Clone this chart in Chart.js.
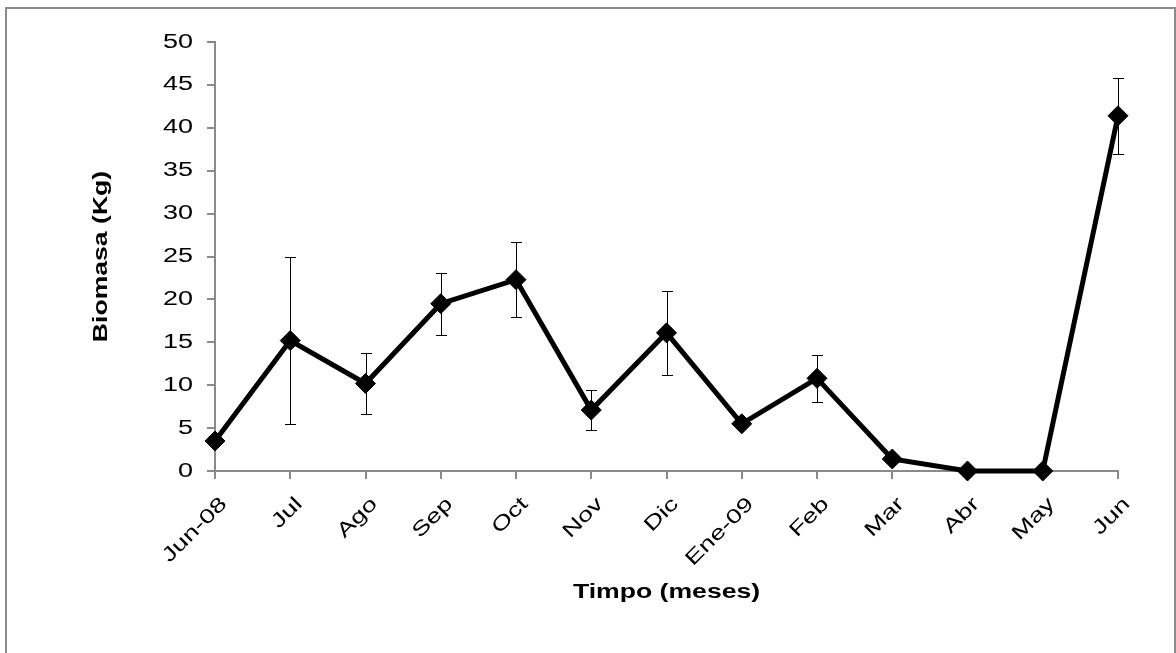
<!DOCTYPE html>
<html>
<head>
<meta charset="utf-8">
<script src="https://cdn.jsdelivr.net/npm/chart.js@4/dist/chart.umd.min.js"></script>
<style>
  html, body { margin: 0; padding: 0; background: #fff; }
  #wrap { width: 1176px; height: 653px; position: relative; }
</style>
</head>
<body>
<div id="wrap"><canvas id="c" width="1176" height="653"></canvas></div>
<script>
// Monthly biomass (kg) with standard error
const meses = ['Jun-08', 'Jul', 'Ago', 'Sep', 'Oct', 'Nov', 'Dic', 'Ene-09', 'Feb', 'Mar', 'Abr', 'May', 'Jun'];
const biomasa = [3.5, 15.2, 10.2, 19.5, 22.3, 7.1, 16.1, 5.5, 10.8, 1.4, 0, 0, 41.4];
const errorEstandar = [0, 9.7, 3.6, 3.6, 4.4, 2.3, 4.9, 0, 2.7, 0, 0, 0, 4.4];
const marcasY = [0, 5, 10, 15, 20, 25, 30, 35, 40, 45, 50];
const tituloX = 'Timpo (meses)';
const tituloY = 'Biomasa (Kg)';

const GRIS = '#8a8a8a';
const FUENTE = '"Liberation Sans", Arial, sans-serif';
const ESTIRA = 1.35;      // horizontal widening of the label glyphs

function texto(ctx, str, x, y, ang, font, align, sx) {
  ctx.save();
  ctx.translate(x, y);
  ctx.rotate(ang);
  ctx.scale(sx, 1);
  ctx.font = font;
  ctx.textAlign = align;
  ctx.textBaseline = 'middle';
  ctx.fillStyle = '#000';
  ctx.fillText(str, 0, 0);
  ctx.restore();
}

// white background and outer frame
const marco = {
  id: 'marco',
  beforeDraw(chart) {
    const ctx = chart.ctx;
    ctx.save();
    ctx.fillStyle = '#fff';
    ctx.fillRect(0, 0, chart.width, chart.height);
    ctx.strokeStyle = GRIS;
    ctx.lineWidth = 2;
    ctx.strokeRect(6, 8, 1169, 700);
    ctx.restore();
  }
};

// vertical error bars with caps, under the line
const barrasError = {
  id: 'barrasError',
  beforeDatasetsDraw(chart) {
    const ctx = chart.ctx, xs = chart.scales.x, ys = chart.scales.y;
    ctx.save();
    ctx.strokeStyle = '#000';
    ctx.lineWidth = 1;
    biomasa.forEach((v, i) => {
      const e = errorEstandar[i];
      if (!e) return;
      const x = Math.round(xs.getPixelForValue(i)) + 0.5;
      const yt = Math.round(ys.getPixelForValue(v + e)) + 0.5;
      const yb = Math.round(ys.getPixelForValue(v - e)) + 0.5;
      ctx.beginPath();
      ctx.moveTo(x, yt); ctx.lineTo(x, yb);
      ctx.moveTo(x - 5.5, yt); ctx.lineTo(x + 5.5, yt);
      ctx.moveTo(x - 5.5, yb); ctx.lineTo(x + 5.5, yb);
      ctx.stroke();
    });
    ctx.restore();
  }
};

// tick labels and axis titles
const rotulos = {
  id: 'rotulos',
  afterDraw(chart) {
    const ctx = chart.ctx, xs = chart.scales.x, ys = chart.scales.y, a = chart.chartArea;
    const f = '20px ' + FUENTE;
    marcasY.forEach(v => {
      texto(ctx, String(v), a.left - 22, ys.getPixelForValue(v), 0, f, 'right', ESTIRA);
    });
    meses.forEach((m, i) => {
      texto(ctx, m, xs.getPixelForValue(i) + 9, a.bottom + 30, -Math.PI / 4, f, 'right', ESTIRA);
    });
    const fb = 'bold 20px ' + FUENTE;
    texto(ctx, tituloY, 101, (a.top + a.bottom) / 2, -Math.PI / 2, fb, 'center', 1.33);
    texto(ctx, tituloX, (a.left + a.right) / 2, 592, 0, fb, 'center', 1.33);
  }
};

new Chart(document.getElementById('c'), {
  type: 'line',
  data: {
    labels: meses,
    datasets: [{
      data: biomasa,
      borderColor: '#000',
      borderWidth: 5,
      backgroundColor: '#000',
      pointStyle: 'rectRot',
      pointRadius: 10,
      pointBackgroundColor: '#000',
      pointBorderColor: '#000',
      pointBorderWidth: 1,
      tension: 0,
      clip: false
    }]
  },
  options: {
    responsive: false,
    animation: false,
    devicePixelRatio: 1,
    layout: { padding: { left: 0, top: 42, right: 58, bottom: 0 } },
    plugins: { legend: { display: false }, tooltip: { enabled: false } },
    scales: {
      x: {
        type: 'category',
        offset: false,
        grid: { drawOnChartArea: false, drawTicks: true, tickLength: 8, color: GRIS, lineWidth: 2 },
        border: { color: GRIS, width: 2 },
        ticks: { display: false },
        afterFit(s) { s.height = 182; }
      },
      y: {
        min: 0,
        max: 50,
        grid: { drawOnChartArea: false, drawTicks: true, tickLength: 8, color: GRIS, lineWidth: 2 },
        border: { color: GRIS, width: 2 },
        ticks: { display: false, stepSize: 5 },
        afterFit(s) { s.width = 215; }
      }
    }
  },
  plugins: [marco, barrasError, rotulos]
});
</script>
</body>
</html>
